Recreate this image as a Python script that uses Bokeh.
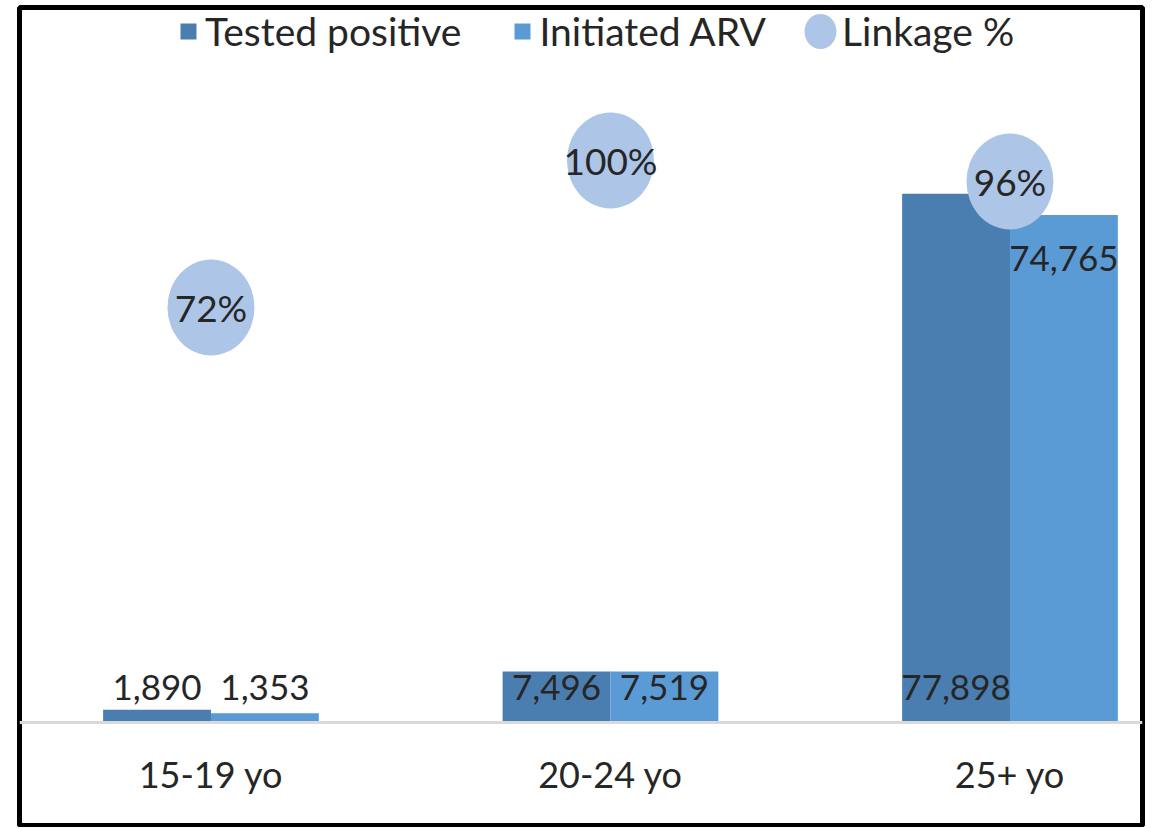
from bokeh.plotting import figure
from bokeh.models import Range1d, FixedTicker, Legend, LegendItem, Span
from bokeh.core.properties import value
from bokeh.embed import file_html
from bokeh.resources import INLINE

categories = ["15-19 yo", "20-24 yo", "25+ yo"]
tested_positive = [1890, 7496, 77898]
initiated_arv = [1353, 7519, 74765]
linkage_pct = [72, 100, 96]
linkage_labels = ["72%", "100%", "96%"]

FONT = "Lato"
TXT = "#262626"
C_TEST = "#4a7eb1"
C_ARV = "#5b9bd5"
C_LINK = "#adc5e6"

xs = list(range(len(categories)))
bw = 0.27

p = figure(width=1145, height=827, output_backend="svg", toolbar_location=None,
           x_range=Range1d(-0.4793, 2.3317), y_range=Range1d(-15172, 105320),
           y_axis_location=None, min_border_left=19, min_border_right=3,
           min_border_top=7, min_border_bottom=2)
p.extra_y_ranges = {"pct": Range1d(-26.67, 129.14)}
p.outline_line_color = "black"
p.outline_line_width = 5
p.xgrid.visible = False
p.ygrid.visible = False
p.background_fill_color = "white"
p.border_fill_color = "white"

x_test = [x - bw / 2 for x in xs]
x_arv = [x + bw / 2 for x in xs]

r1 = p.vbar(x=x_test, top=tested_positive, width=bw, color=C_TEST, line_color=None)
r2 = p.vbar(x=x_arv, top=initiated_arv, width=bw, color=C_ARV, line_color=None)

base = Span(location=0, dimension="width", line_color="#d9d9d9", line_width=3)
p.add_layout(base)

r3 = p.ellipse(x=xs, y=linkage_pct, width=87, height=96, width_units="screen",
               height_units="screen", y_range_name="pct", fill_color=C_LINK,
               line_color=None)

p.text(x=xs, y=linkage_pct, text=linkage_labels, y_range_name="pct",
       text_align="center", text_baseline="middle", text_font=value(FONT),
       text_font_size="37px", text_color=TXT)

fmt = lambda v: f"{v:,}"
base_x = [x_test[0], x_arv[0], x_test[1], x_arv[1], x_test[2]]
base_t = [fmt(tested_positive[0]), fmt(initiated_arv[0]), fmt(tested_positive[1]),
          fmt(initiated_arv[1]), fmt(tested_positive[2])]
p.text(x=base_x, y=[0] * len(base_x), text=base_t, y_offset=-35,
       text_align="center", text_baseline="middle", text_font=value(FONT),
       text_font_size="35px", text_color=TXT)
p.text(x=[x_arv[2]], y=[initiated_arv[2]], text=[fmt(initiated_arv[2])], y_offset=44,
       text_align="center", text_baseline="middle", text_font=value(FONT),
       text_font_size="35px", text_color=TXT)

ax = p.xaxis[0]
ax.ticker = FixedTicker(ticks=xs)
ax.major_label_overrides = {i: c for i, c in zip(xs, categories)}
ax.axis_line_color = None
ax.major_tick_line_color = None
ax.minor_tick_line_color = None
ax.major_label_standoff = -80
ax.major_label_text_font = FONT
ax.major_label_text_font_size = "36px"
ax.major_label_text_color = TXT

legA = Legend(items=[LegendItem(label="Tested positive", renderers=[r1]),
                     LegendItem(label="Initiated ARV", renderers=[r2])],
              orientation="horizontal", location=(159, 771), glyph_width=20,
              glyph_height=20, label_standoff=7, spacing=51, padding=0, margin=0,
              border_line_color=None, background_fill_alpha=0,
              label_text_font=FONT, label_text_font_size="39px",
              label_text_color=TXT)
legB = Legend(items=[LegendItem(label="Linkage %", renderers=[r3])],
              orientation="horizontal", location=(779, 771), glyph_width=44,
              glyph_height=44, label_standoff=0, padding=0, margin=0,
              border_line_color=None, background_fill_alpha=0,
              label_text_font=FONT, label_text_font_size="39px",
              label_text_color=TXT)
p.add_layout(legA, "center")
p.add_layout(legB, "center")

open("out.html", "w").write(file_html(p, INLINE))
